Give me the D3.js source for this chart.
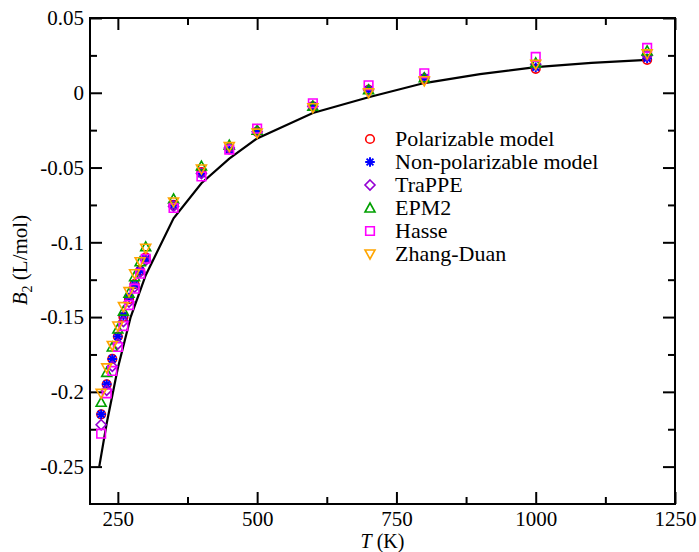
<!DOCTYPE html>
<html>
<head>
<meta charset="utf-8">
<script src="https://cdn.jsdelivr.net/npm/d3@7"></script>
<style>
  body { margin: 0; background: #fff; }
  text { font-family: "Liberation Serif", "Times New Roman", serif; fill: #000; }
</style>
</head>
<body>
<div id="container"></div>
<script>
/**
 * CONSTANTS AND GLOBALS
 * */
const width = 699,
  height = 552,
  margin = { top: 18, right: 24, bottom: 48, left: 90 };

// temperatures (K) of the simulated points
const temps = [220, 230, 240, 250, 260, 270, 280, 290, 300, 350, 400, 450, 500, 600, 700, 800, 1000, 1200];

// B2 values (L/mol), one list per model
const polarizable    = [-0.215, -0.195, -0.178, -0.163, -0.150, -0.138, -0.128, -0.119, -0.110, -0.075, -0.053, -0.037, -0.026, -0.009, 0.002, 0.009, 0.016, 0.022];
const nonPolarizable = [-0.215, -0.195, -0.178, -0.163, -0.149, -0.137, -0.128, -0.119, -0.111, -0.075, -0.054, -0.038, -0.026, -0.009, 0.002, 0.010, 0.017, 0.023];
const trappe         = [-0.222, -0.199, -0.183, -0.168, -0.153, -0.140, -0.130, -0.120, -0.112, -0.076, -0.054, -0.037, -0.026, -0.009, 0.002, 0.010, 0.019, 0.025];
const epm2           = [-0.207, -0.187, -0.170, -0.158, -0.146, -0.134, -0.123, -0.113, -0.103, -0.071, -0.049, -0.035, -0.025, -0.009, 0.002, 0.010, 0.020, 0.028];
const hasse          = [-0.228, -0.201, -0.186, -0.170, -0.156, -0.142, -0.131, -0.121, -0.111, -0.077, -0.056, -0.038, -0.024, -0.007, 0.005, 0.013, 0.024, 0.030];
const zhangDuan      = [-0.201, -0.184, -0.169, -0.156, -0.143, -0.133, -0.121, -0.113, -0.104, -0.073, -0.051, -0.036, -0.027, -0.010, 0.000, 0.008, 0.019, 0.026];

// reference (experimental) curve
const refT = [216.6, 230, 250, 273, 300, 350, 400, 450, 500, 600, 700, 800, 900, 1000, 1100, 1200];
const refB = [-0.250, -0.221, -0.184, -0.150, -0.122, -0.084, -0.0605, -0.044, -0.0305, -0.0135, -0.003, 0.0065, 0.0125, 0.0172, 0.020, 0.022];

const seriesNames = ["Polarizable model", "Non-polarizable model", "TraPPE", "EPM2", "Hasse", "Zhang-Duan"];

const xTicks = [250, 500, 750, 1000, 1250];
const xMinor = [375, 625, 875, 1125];
const yTicks = [-0.25, -0.2, -0.15, -0.1, -0.05, 0, 0.05];
const yMinor = [-0.225, -0.175, -0.125, -0.075, -0.025, 0.025];

/**
 * STYLES
 * */
const colors = ["#ff0000", "#0000ff", "#9400d3", "#00a000", "#ff00ff", "#ffa500"];
const shapes = [
  "M4.3,0A4.3,4.3 0 1,1 -4.3,0A4.3,4.3 0 1,1 4.3,0Z",
  "M-4.8,0L4.8,0M0,-4.8L0,4.8M-3.4,-3.4L3.4,3.4M-3.4,3.4L3.4,-3.4",
  "M0,-5L5,0L0,5L-5,0Z",
  "M0,-5L5,4L-5,4Z",
  "M-4.3,-4.3L4.3,-4.3L4.3,4.3L-4.3,4.3Z",
  "M0,5L5,-4L-5,-4Z"
];
const strokeW = [1.6, 2, 1.6, 1.6, 1.6, 1.6];

const allSeries = [polarizable, nonPolarizable, trappe, epm2, hasse, zhangDuan];
const serif = '"Liberation Serif", "Times New Roman", serif';

/**
 * DRAW
 * */
const svg = d3.select("#container")
  .append("svg")
  .attr("width", width)
  .attr("height", height);

const x = d3.scaleLinear().domain([200, 1250]).range([margin.left, width - margin.right]);
const y = d3.scaleLinear().domain([-0.275, 0.05]).range([height - margin.bottom, margin.top]);

const fmt = d => String(d);

function styleAxis(g) {
  g.attr("font-family", serif);
  g.select(".domain").remove();
  g.selectAll("line").attr("stroke", "#000").attr("stroke-width", 2);
  g.selectAll("text").style("font-size", "21px").style("font-family", serif);
}

// bottom
svg.append("g")
  .attr("transform", `translate(0,${height - margin.bottom})`)
  .call(d3.axisBottom(x).tickValues(xTicks).tickSize(-12).tickPadding(7).tickFormat(fmt))
  .call(styleAxis);
svg.append("g")
  .attr("transform", `translate(0,${height - margin.bottom})`)
  .call(d3.axisBottom(x).tickValues(xMinor).tickSize(-7).tickFormat(""))
  .call(styleAxis);
// top
svg.append("g")
  .attr("transform", `translate(0,${margin.top})`)
  .call(d3.axisTop(x).tickValues(xTicks).tickSize(-12).tickFormat(""))
  .call(styleAxis);
svg.append("g")
  .attr("transform", `translate(0,${margin.top})`)
  .call(d3.axisTop(x).tickValues(xMinor).tickSize(-7).tickFormat(""))
  .call(styleAxis);
// left
svg.append("g")
  .attr("transform", `translate(${margin.left},0)`)
  .call(d3.axisLeft(y).tickValues(yTicks).tickSize(-12).tickPadding(6).tickFormat(fmt))
  .call(styleAxis);
svg.append("g")
  .attr("transform", `translate(${margin.left},0)`)
  .call(d3.axisLeft(y).tickValues(yMinor).tickSize(-7).tickFormat(""))
  .call(styleAxis);
// right
svg.append("g")
  .attr("transform", `translate(${width - margin.right},0)`)
  .call(d3.axisRight(y).tickValues(yTicks).tickSize(-12).tickFormat(""))
  .call(styleAxis);
svg.append("g")
  .attr("transform", `translate(${width - margin.right},0)`)
  .call(d3.axisRight(y).tickValues(yMinor).tickSize(-7).tickFormat(""))
  .call(styleAxis);

// frame
svg.append("rect")
  .attr("x", margin.left)
  .attr("y", margin.top)
  .attr("width", width - margin.left - margin.right)
  .attr("height", height - margin.top - margin.bottom)
  .attr("fill", "none")
  .attr("stroke", "#000")
  .attr("stroke-width", 2);

// reference line
const line = d3.line().x(d => x(d[0])).y(d => y(d[1]));
svg.append("path")
  .datum(refT.map((t, i) => [t, refB[i]]))
  .attr("d", line)
  .attr("fill", "none")
  .attr("stroke", "#000")
  .attr("stroke-width", 2.2);

// markers
allSeries.forEach((vals, s) => {
  svg.append("g")
    .selectAll("path")
    .data(temps.map((t, i) => [t, vals[i]]))
    .join("path")
    .attr("transform", d => `translate(${x(d[0])},${y(d[1])})`)
    .attr("d", shapes[s])
    .attr("fill", "none")
    .attr("stroke", colors[s])
    .attr("stroke-width", strokeW[s]);
});

// legend
const legend = svg.append("g").attr("transform", "translate(370,139)");
const rows = legend.selectAll("g")
  .data(seriesNames)
  .join("g")
  .attr("transform", (d, i) => `translate(0,${i * 23})`);
rows.append("path")
  .attr("d", (d, i) => shapes[i])
  .attr("fill", "none")
  .attr("stroke", (d, i) => colors[i])
  .attr("stroke-width", (d, i) => strokeW[i]);
rows.append("text")
  .attr("x", 25)
  .attr("y", 7)
  .style("font-size", "22px")
  .text(d => d);

// axis titles
svg.append("text")
  .attr("x", (margin.left + width - margin.right) / 2)
  .attr("y", 547.5)
  .attr("text-anchor", "middle")
  .style("font-size", "20px")
  .html('<tspan font-style="italic">T</tspan> (K)');

svg.append("text")
  .attr("transform", "translate(27,260) rotate(-90)")
  .attr("text-anchor", "middle")
  .style("font-size", "21px")
  .html('<tspan font-style="italic">B</tspan><tspan font-size="14px" dy="5">2</tspan><tspan dy="-5"> (L/mol)</tspan>');
</script>
</body>
</html>
